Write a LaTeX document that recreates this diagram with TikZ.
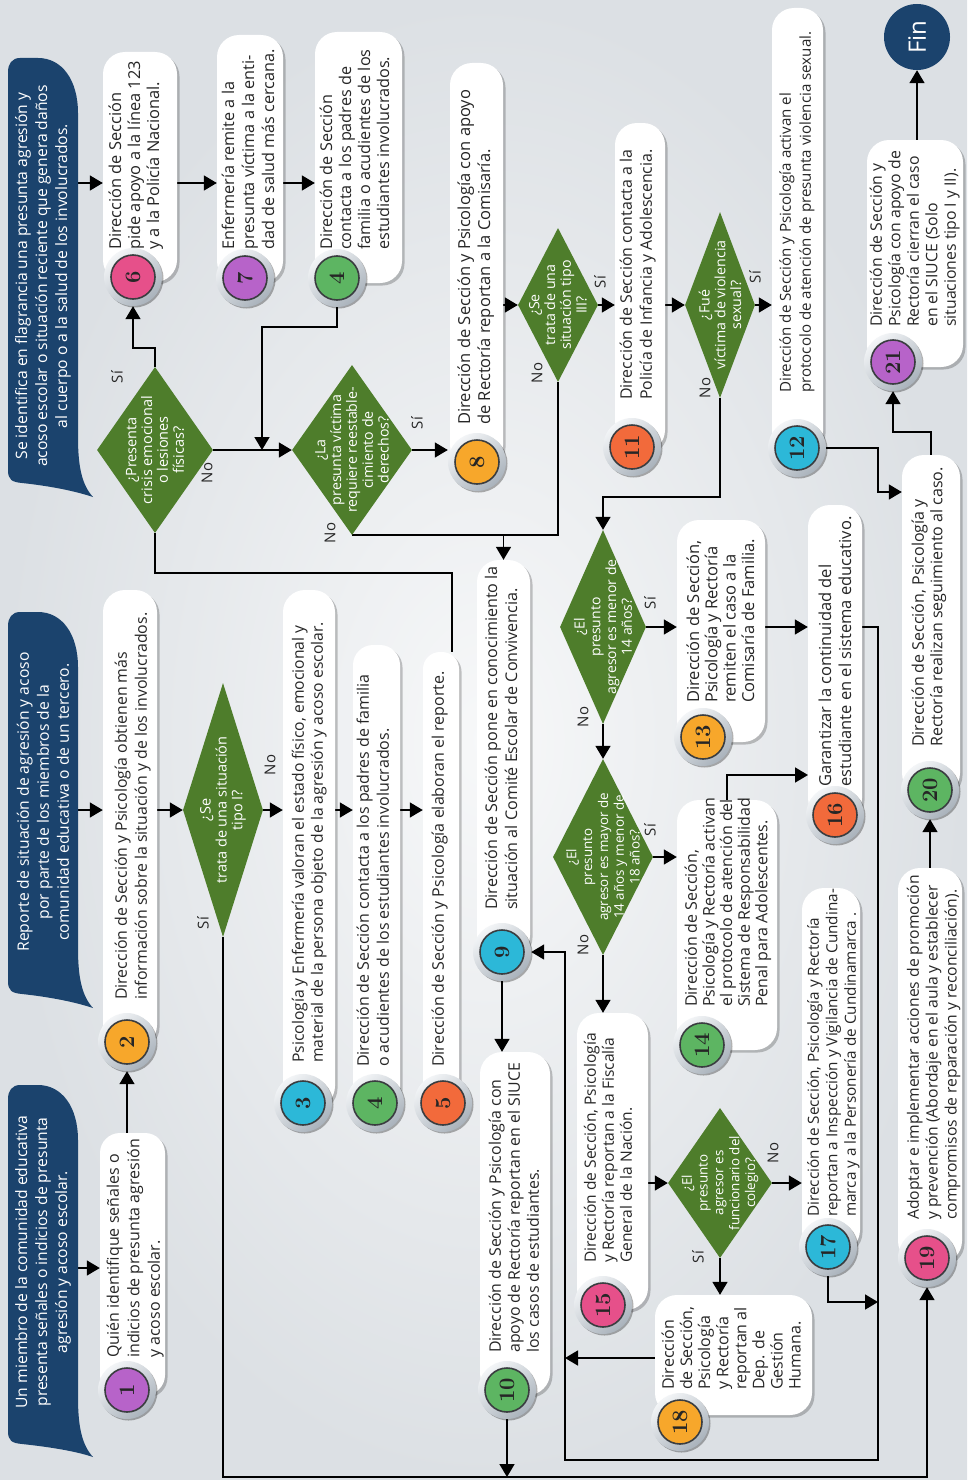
\documentclass[tikz,border=0pt]{standalone}
\usepackage{fontspec}
\usepackage{graphicx}
\newfontfamily\tf{Open Sans}
\usetikzlibrary{arrows.meta,shapes.geometric,shadows}
\pgfdeclarelayer{back}
\pgfdeclarelayer{lines}
\pgfsetlayers{back,lines,main}
\definecolor{navy}{HTML}{1B436D}
\definecolor{dgreen}{HTML}{4E7D2B}
\definecolor{cpur}{HTML}{B763C9}
\definecolor{corg}{HTML}{F7A72B}
\definecolor{ccya}{HTML}{2CB8D8}
\definecolor{cgrn}{HTML}{5DB562}
\definecolor{cred}{HTML}{F26A3B}
\definecolor{cpnk}{HTML}{E6508A}
\definecolor{txt}{HTML}{262626}
\definecolor{dkline}{HTML}{3A3D40}
\definecolor{ringA}{HTML}{F3F5F7}
\definecolor{ringB}{HTML}{A9B2BB}
\definecolor{bgin}{HTML}{F7F8F9}
\definecolor{bgout}{HTML}{DCE0E4}
\tikzset{
  boxstyle/.style={rectangle, fill=white, draw=none, inner sep=0pt,
    drop shadow={shadow xshift=2.5pt, shadow yshift=-2.5pt, opacity=0.22, fill=black}},
  ring/.style={circle, minimum size=58pt, inner sep=0pt, top color=ringA, bottom color=ringB,
    shading angle=40, drop shadow={shadow xshift=1.5pt, shadow yshift=-1.5pt, opacity=0.3, fill=black}},
  disk/.style={circle, minimum size=44pt, inner sep=0pt, draw=dkline, line width=1.6pt,
    font=\bfseries\fontsize{22}{22}\selectfont, text=txt},
  dia/.style={diamond, fill=dgreen, draw=none, inner sep=0pt},
  dtext/.style={rotate=90, align=center, text=white, inner sep=0pt},
  btext/.style={rotate=90, anchor=north west, align=left, inner sep=0pt, text=txt},
  htext/.style={rotate=90, align=center, inner sep=0pt, text=white, font=\tf\fontsize{15.7}{20}\selectfont},
  lab/.style={rotate=90, inner sep=0pt, text=txt, font=\tf\fontsize{15}{15}\selectfont},
  arr/.style={line width=1.6pt, draw=black, -{Triangle[length=13pt,width=15pt]}},
  ln/.style={line width=1.6pt, draw=black},
}
\newcommand\mkbox[6]{\node[boxstyle, rounded corners=#6pt, minimum width={#4-#2}, minimum height={#5-#3}] (#1) at ({(#2+#4)/2},{(#3+#5)/2}) {};}
\newcommand\mkcirc[5]{\node[ring] (#1) at (#2,#3) {};\node[disk, fill=#4] (#1n) at (#1) {\rotatebox{90}{#5}};}
\newcommand\mktext[6]{\node[btext, font=\tf\fontsize{#4}{#5}\selectfont] (#1) at ({#2-0.53*#4},#3) {#6};}
\newcommand\mkdia[7]{\node[dia, minimum width={2*#4}, minimum height={2*#5}] (#1) at (#2,#3) {};\node[dtext, font=\tf\fontsize{#6}{15.8}\selectfont] (#1t) at (#1) {#7};}
\newcommand\mkbanner[3]{\fill[navy] (8,{#1+14}) -- (8,{#2-12}) .. controls (8,{#2-2}) and (12,#2) .. (22,{#2+1}) .. controls (50,{#2+4}) and (75,{#3-6}) .. (93,#3) .. controls (82,{#3-12}) and (78,{#3-30}) .. (78,{#3-60}) -- (78,{#1+55}) .. controls (78,{#1+22}) and (62,#1) .. (38,#1) -- (20,#1) .. controls (12,#1) and (8,{#1+6}) .. (8,{#1+14}) -- cycle;}
\begin{document}
\begin{tikzpicture}[x=1pt,y=-1pt]
\useasboundingbox (0,0) rectangle (967,1480);
\begin{pgfonlayer}{back}
\shade[inner color=bgin, outer color=bgout] (0,0) rectangle (967,1480);
\end{pgfonlayer}

% banners
\mkbanner{1085}{1443}{1457}
\mkbanner{612}{993}{1008}
\mkbanner{58}{482}{497}
\node[htext] (hb1) at (43,1262) {Un miembro de la comunidad educativa\\presenta señales o indicios de presunta\\agresión y acoso escolar.};
\node[htext] (hb2) at (43,802) {Reporte de situación de agresión y acoso\\por parte de los miembros de la\\comunidad educativa o de un tercero.};
\node[htext] (hb3) at (43,276) {Se identifica en flagrancia una presunta agresión y\\acoso escolar o situación reciente que genera daños\\al cuerpo o a la salud de los involucrados.};
\coordinate (h1) at (78,1268);
\coordinate (h2) at (78,810);
\coordinate (h3) at (78,183);

% boxes
\mkbox{b1}{100}{1133}{165}{1395}{20}
\mkbox{b2}{103}{590}{157}{1047}{22}
\mkbox{b3}{283}{590}{335}{1108}{22}
\mkbox{b4}{353}{645}{400}{1108}{20}
\mkbox{b5}{423}{652}{459}{1108}{17}
\mkbox{b6}{103}{52}{177}{282}{22}
\mkbox{b7}{217}{35}{283}{283}{22}
\mkbox{b4b}{315}{32}{402}{283}{22}
\mkbox{b8}{450}{63}{503}{467}{22}
\mkbox{b9}{477}{560}{530}{957}{22}
\mkbox{b10}{480}{1052}{550}{1395}{22}
\mkbox{b11}{615}{123}{665}{452}{22}
\mkbox{b12}{772}{8}{823}{453}{22}
\mkbox{b13}{677}{520}{765}{742}{22}
\mkbox{b14}{677}{800}{777}{1050}{22}
\mkbox{b15}{577}{1013}{648}{1310}{22}
\mkbox{b16}{808}{505}{862}{820}{22}
\mkbox{b17}{802}{888}{860}{1252}{22}
\mkbox{b18}{655}{1295}{812}{1415}{22}
\mkbox{b19}{898}{868}{962}{1263}{22}
\mkbox{b20}{902}{455}{960}{795}{22}
\mkbox{b21}{867}{140}{963}{367}{22}

% texts
\mktext{t1}{115}{1358}{16}{20.5}{Quién identifique señales o\\indicios de presunta agresión\\y acoso escolar.}
\mktext{t2}{123}{1000}{15.9}{20}{Dirección de Sección y Psicología obtienen más\\información sobre la situación y de los involucrados.}
\mktext{t3}{300}{1063}{15.7}{19}{Psicología y Enfermería valoran el estado físico, emocional y\\material de la persona objeto de la agresión y acoso escolar.}
\mktext{t4}{365}{1067}{16}{20}{Dirección de Sección contacta a los padres de familia\\o acudientes de los estudiantes involucrados.}
\mktext{t5}{440}{1067}{16}{19}{Dirección de Sección y Psicología elaboran el reporte.}
\mktext{t6}{117}{250}{16.4}{19}{Dirección de Sección\\pide apoyo a la línea 123\\y a la Policía Nacional.}
\mktext{t7}{230}{250}{16.2}{20}{Enfermería remite a la\\presunta víctima a la enti-\\dad de salud más cercana.}
\mktext{t4b}{328}{250}{16.2}{19}{Dirección de Sección\\contacta a los padres de\\familia o acudientes de los\\estudiantes involucrados.}
\mktext{t8}{466}{425}{16.5}{20}{Dirección de Sección y Psicología con apoyo\\de Rectoría reportan a la Comisaría.}
\mktext{t9}{493}{910}{16.1}{20}{Dirección de Sección pone en conocimiento la\\situación al Comité Escolar de Convivencia.}
\mktext{t10}{497}{1353}{15.9}{19}{Dirección de Sección y Psicología con\\apoyo de Rectoría reportan en el SIUCE\\los casos de estudiantes.}
\mktext{t11}{628}{400}{15.9}{20}{Dirección de Sección contacta a la\\Policía de Infancia y Adolescencia.}
\mktext{t12}{787}{393}{15.1}{20}{Dirección de Sección y Psicología activan el\\protocolo de atención de presunta violencia sexual.}
\mktext{t13}{695}{703}{16.5}{18.3}{Dirección de Sección,\\Psicología y Rectoría\\remiten el caso a la\\Comisaría de Familia.}
\mktext{t14}{693}{1007}{16}{17.6}{Dirección de Sección,\\Psicología y Rectoría activan\\el protocolo de atención del\\Sistema de Responsabilidad\\Penal para Adolescentes.}
\mktext{t15}{592}{1263}{15.6}{18}{Dirección de Sección, Psicología\\y Rectoría reportan a la Fiscalía\\General de la Nación.}
\mktext{t16}{827}{787}{16.5}{20}{Garantizar la continuidad del\\estudiante en el sistema educativo.}
\mktext{t17}{815}{1217}{15.3}{18.5}{Dirección de Sección, Psicología y Rectoría\\reportan a Inspección y Vigilancia de Cundina-\\marca y a la Personería de Cundinamarca .}
\mktext{t18}{670}{1390}{16}{18.1}{Dirección\\de Sección,\\Psicología\\y Rectoría\\reportan al\\Dep. de\\Gestión\\Humana.}
\mktext{t19}{915}{1220}{15.7}{18.8}{Adoptar e implementar acciones de promoción\\y prevención (Abordaje en el aula y establecer\\compromisos de reparación y reconciliación).}
\mktext{t20}{920}{747}{16}{18.5}{Dirección de Sección, Psicología y\\Rectoría realizan seguimiento al caso.}
\mktext{t21}{878}{327}{15.8}{18.5}{Dirección de Sección y\\Psicología con apoyo de\\Rectoría cierran el caso\\en el SIUCE (Solo\\situaciones tipo I y II).}

% circles
\mkcirc{c1}{127}{1390}{cpur}{1}
\mkcirc{c2}{127}{1042}{corg}{2}
\mkcirc{c3}{303}{1103}{ccya}{3}
\mkcirc{c4}{375}{1103}{cgrn}{4}
\mkcirc{c5}{443}{1103}{cred}{5}
\mkcirc{c6}{133}{277}{cpnk}{6}
\mkcirc{c7}{245}{278}{cpur}{7}
\mkcirc{c4b}{337}{278}{cgrn}{4}
\mkcirc{c8}{477}{462}{corg}{8}
\mkcirc{c9}{502}{952}{ccya}{9}
\mkcirc{c10}{507}{1390}{cgrn}{10}
\mkcirc{c11}{632}{447}{cred}{11}
\mkcirc{c12}{797}{448}{ccya}{12}
\mkcirc{c13}{703}{737}{corg}{13}
\mkcirc{c14}{702}{1045}{cgrn}{14}
\mkcirc{c15}{603}{1305}{cpnk}{15}
\mkcirc{c16}{835}{815}{cred}{16}
\mkcirc{c17}{828}{1247}{ccya}{17}
\mkcirc{c18}{680}{1422}{corg}{18}
\mkcirc{c19}{927}{1258}{cpnk}{19}
\mkcirc{c20}{930}{790}{cgrn}{20}
\mkcirc{c21}{893}{362}{cpur}{21}

% diamonds
\mkdia{dc}{155}{450}{58}{83}{14.5}{¿Presenta\\crisis emocional\\o lesiones\\físicas?}
\mkdia{d1}{223}{810}{40}{127}{14.5}{¿Se\\trata de una situación\\tipo I?}
\mkdia{dr}{352}{450}{60}{85}{14.2}{¿La\\presunta víctima\\requiere reestable-\\cimiento de\\derechos?}
\mkdia{d3}{558}{305}{40}{77}{14.2}{¿Se\\trata de una\\situación tipo\\III?}
\mkdia{ds}{720}{305}{35}{93}{14.2}{¿Fué\\víctima de violencia\\sexual?}
\mkdia{dm}{603}{627}{43}{97}{14}{¿El\\presunto\\agresor es menor de\\14 años?}
\mkdia{dy}{603}{857}{50}{98}{13.4}{¿El\\presunto\\agresor es mayor de\\14 años y menor de\\18 años?}
\mkdia{df}{720}{1183}{52}{75}{13.4}{¿El\\presunto\\agresor es\\funcionario del\\colegio?}

% labels
\node[lab] (l1s) at (203,923) {Sí};
\node[lab] (l1n) at (270,765) {No};
\node[lab] (lcs) at (117,377) {Sí};
\node[lab] (lcn) at (207,473) {No};
\node[lab] (lrs) at (417,423) {Sí};
\node[lab] (lrn) at (330,533) {No};
\node[lab] (l3s) at (600,282) {Sí};
\node[lab] (l3n) at (537,373) {No};
\node[lab] (lss) at (755,277) {Sí};
\node[lab] (lsn) at (705,388) {No};
\node[lab] (lms) at (650,603) {Sí};
\node[lab] (lmn) at (583,717) {No};
\node[lab] (lys) at (650,830) {Sí};
\node[lab] (lyn) at (583,945) {No};
\node[lab] (lfs) at (698,1257) {Sí};
\node[lab] (lfn) at (773,1153) {No};

% fin
\node[circle, fill=navy, minimum size=66pt, inner sep=0pt, text=white, font=\tf\fontsize{24}{24}\selectfont] (fin) at (917,37) {\rotatebox{90}{Fin}};

% junctions
\coordinate (bot) at (500,1477);
\coordinate (rl) at (878,1460);
\coordinate (ll) at (565,1460);
\coordinate (j1) at (262,450);
\coordinate (j2) at (452,573);
\coordinate (k14) at (808,775);
\coordinate (k18) at (565,1358);
\coordinate (k17) at (878,1302);
\coordinate (k12) at (878,492);

\begin{pgfonlayer}{lines}
\draw[arr] (h1) -- (h1 -| b1.west);
\draw[arr] (h2) -- (h2 -| b2.west);
\draw[arr] (h3) -- (h3 -| b6.west);
\draw[arr] (c2 |- b1.north) -- (c2.south);
\draw[arr] (d1.west -| b2.east) -- (d1.west);
\draw[arr] (d1.east) -- (d1.east -| b3.west);
\draw[arr] (d1.east -| b3.east) -- (d1.east -| b4.west);
\draw[arr] (d1.east -| b4.east) -- (d1.east -| b5.west);
\draw[arr] (d1.south) |- (bot) -| (c19.south);
\draw[arr] (h3 -| b6.east) -- (h3 -| b7.west);
\draw[arr] (h3 -| b7.east) -- (h3 -| b4b.west);
\draw[arr] (dc.north) -- ++(0,-19) -| (c6.south);
\draw[arr] (dc.east) -- (dr.west);
\draw[arr] (c4b.south) -- ++(0,20) -| (j1);
\draw[ln] (dc.south) |- (j2) -- (j2 |- b5.north);
\draw[arr] (dr.east) -- (dr.east -| c8.west);
\draw[ln] (d3.south) |- (dr.south);
\draw[arr] (b9.north |- dr.south) -- (b9.north);
\draw[arr] (d3.west -| b8.east) -- (d3.west);
\draw[arr] (d3.east) -- (d3.east -| b11.west);
\draw[arr] (ds.west -| b11.east) -- (ds.west);
\draw[arr] (ds.east) -- (ds.east -| b12.west);
\draw[arr] (ds.south) -- ++(0,99) -| (dm.north);
\draw[arr] (dm.east) -- (dm.east -| b13.west);
\draw[arr] (dm.south) -- (dy.north);
\draw[arr] (dm.east -| b13.east) -- (dm.east -| b16.west);
\draw[arr] (dm.east -| b16.east) -| (rl) -| (c9.east -| ll) -- (c9.east);
\draw[arr] (dy.east) -- (dy.east -| b14.west);
\draw[arr] (b14.north) |- (k14);
\draw[arr] (dy.south) -- (dy.south |- b15.north);
\draw[arr] (c9.south) -- (c9.south |- b10.north);
\draw[arr] (c10.south) -- (c10.south |- bot);
\draw[arr] (df.west -| b15.east) -- (df.west);
\draw[arr] (df.east) -- (df.east -| b17.west);
\draw[arr] (df.south) -- (df.south |- b18.north);
\draw[arr] (k18 -| b18.west) -- (k18);
\draw[arr] (c17.south) |- (k17);
\draw[arr] (c20 |- b19.north) -- (c20.south);
\draw[arr] (c12.east) -| (k12) -- (k12 -| b20.west);
\draw[arr] (b20.north) -- ++(0,-23) -| (c21.south);
\draw[arr] (fin |- b21.north) -- (fin.south);
\end{pgfonlayer}
\end{tikzpicture}
\end{document}
